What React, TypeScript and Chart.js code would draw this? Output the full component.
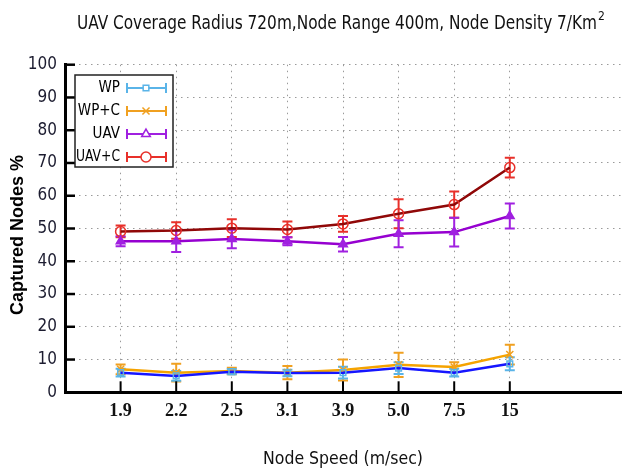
import React, { useEffect, useRef } from 'react';
import { Chart, registerables } from 'chart.js';
import { drawPoint } from 'chart.js/helpers';

Chart.register(...registerables);

const categories = ['1.9', '2.2', '2.5', '3.1', '3.9', '5.0', '7.5', '15'];
const yTicks = [0, 10, 20, 30, 40, 50, 60, 70, 80, 90, 100];

const seriesNames = ['WP', 'WP+C', 'UAV', 'UAV+C'];

const wp = [6.0, 5.0, 6.3, 5.9, 6.0, 7.4, 6.0, 8.7];
const wpErr = [1.2, 1.5, 0.8, 1.0, 1.8, 1.8, 1.2, 2.0];
const wpc = [7.0, 6.0, 6.5, 6.0, 6.8, 8.4, 7.7, 11.5];
const wpcErr = [1.5, 2.7, 1.0, 2.0, 3.2, 3.7, 1.5, 3.0];
const uav = [46.1, 46.1, 46.8, 46.1, 45.2, 48.4, 48.9, 53.8];
const uavErr = [1.5, 3.3, 2.8, 1.2, 2.2, 4.1, 4.4, 3.8];
const uavc = [49.1, 49.4, 50.1, 49.7, 51.4, 54.5, 57.3, 68.6];
const uavcErr = [1.8, 2.5, 2.7, 2.4, 2.4, 4.4, 4.0, 3.0];

const seriesValues = [wp, wpc, uav, uavc];
const seriesErrors = [wpErr, wpcErr, uavErr, uavcErr];

const lineColors = ['#1616ff', '#f5a300', '#9600d0', '#900808'];
const markerColors = ['#5ab4e8', '#f0a020', '#a020e0', '#e8302a'];
const pointStyles = ['rect', 'crossRot', 'triangle', 'circle'];
const pointRadii = [4, 5, 5, 5];
const pointFilled = [false, false, true, false];

const errorBarPlugin = {
  id: 'errorBars',
  beforeDatasetsDraw(chart: any) {
    const { ctx } = chart;
    const xs = chart.scales.x;
    const ys = chart.scales.y;
    ctx.save();
    for (let di = chart.data.datasets.length - 1; di >= 0; di--) {
      const ds = chart.data.datasets[di];
      const errs = seriesErrors[di];
      ctx.strokeStyle = markerColors[di];
      ctx.lineWidth = 2;
      ds.data.forEach((pt: any, i: number) => {
        const px = xs.getPixelForValue(pt.x);
        const top = ys.getPixelForValue(pt.y + errs[i]);
        const bot = ys.getPixelForValue(pt.y - errs[i]);
        ctx.beginPath();
        ctx.moveTo(px, top);
        ctx.lineTo(px, bot);
        ctx.moveTo(px - 5, top);
        ctx.lineTo(px + 5, top);
        ctx.moveTo(px - 5, bot);
        ctx.lineTo(px + 5, bot);
        ctx.stroke();
      });
    }
    ctx.restore();
  },
};

const decorPlugin = {
  id: 'decor',
  afterDraw(chart: any) {
    const { ctx, chartArea: ca } = chart;
    const xs = chart.scales.x;
    const ys = chart.scales.y;
    ctx.save();
    // inward tick marks
    ctx.strokeStyle = '#000';
    ctx.lineWidth = 2.5;
    ys.ticks.forEach((t: any) => {
      const py = ys.getPixelForValue(t.value);
      ctx.beginPath();
      ctx.moveTo(ca.left, py);
      ctx.lineTo(ca.left + 10, py);
      ctx.stroke();
    });
    ctx.lineWidth = 2;
    xs.ticks.forEach((t: any) => {
      const px = xs.getPixelForValue(t.value);
      ctx.beginPath();
      ctx.moveTo(px, ca.bottom);
      ctx.lineTo(px, ca.bottom - 11);
      ctx.stroke();
    });

    // legend
    const bx = 75, by = 75, bw = 98, bh = 92;
    ctx.fillStyle = '#fff';
    ctx.fillRect(bx, by, bw, bh);
    ctx.strokeStyle = '#222';
    ctx.lineWidth = 1.5;
    ctx.strokeRect(bx, by, bw, bh);
    const rowsY = [88, 111, 134, 157];
    ctx.font = '15px "DejaVu Sans Condensed", "DejaVu Sans", sans-serif';
    ctx.textAlign = 'right';
    ctx.textBaseline = 'middle';
    seriesNames.forEach((name, i) => {
      const ry = rowsY[i];
      ctx.fillStyle = '#000';
      ctx.fillText(name, 120, ry, 44);
      ctx.strokeStyle = markerColors[i];
      ctx.lineWidth = 2;
      ctx.beginPath();
      ctx.moveTo(127, ry);
      ctx.lineTo(166, ry);
      ctx.moveTo(127, ry - 5);
      ctx.lineTo(127, ry + 5);
      ctx.moveTo(166, ry - 5);
      ctx.lineTo(166, ry + 5);
      ctx.stroke();
      ctx.fillStyle = '#fff';
      ctx.lineWidth = 1.5;
      drawPoint(ctx, { pointStyle: pointStyles[i], radius: pointRadii[i], rotation: 0, borderWidth: 1.5 }, 146, ry);
    });

    // title
    ctx.fillStyle = '#111';
    ctx.textAlign = 'left';
    ctx.textBaseline = 'alphabetic';
    ctx.font = '19px "DejaVu Sans Condensed", "DejaVu Sans", sans-serif';
    ctx.fillText('UAV Coverage Radius 720m,Node Range 400m, Node Density 7/Km', 77, 29, 520);
    ctx.font = '12px "DejaVu Sans Condensed", "DejaVu Sans", sans-serif';
    ctx.fillText('2', 598, 20);

    // x title
    ctx.textAlign = 'center';
    ctx.font = '18px "DejaVu Sans Condensed", "DejaVu Sans", sans-serif';
    ctx.fillText('Node Speed (m/sec)', 343, 464, 160);

    // y title
    ctx.save();
    ctx.translate(23, 235);
    ctx.rotate(-Math.PI / 2);
    ctx.font = 'bold 18px "Liberation Sans", Arial, sans-serif';
    ctx.fillStyle = '#000';
    ctx.fillText('Captured Nodes %', 0, 0, 166);
    ctx.restore();

    ctx.restore();
  },
};

export default function App() {
  const ref = useRef<HTMLCanvasElement>(null);
  useEffect(() => {
    document.body.style.margin = '0';
    const datasets = seriesNames.map((name, i) => ({
      label: name,
      data: seriesValues[i].map((v, j) => ({ x: j + 1, y: v })),
      borderColor: lineColors[i],
      borderWidth: 2.5,
      backgroundColor: lineColors[i],
      pointStyle: pointStyles[i],
      pointRadius: pointRadii[i],
      pointBorderColor: markerColors[i],
      pointBackgroundColor: pointFilled[i] ? markerColors[i] : 'rgba(0,0,0,0)',
      pointBorderWidth: 1.5,
      tension: 0,
      fill: false,
    }));
    const chart = new Chart(ref.current!, {
      type: 'line',
      data: { datasets },
      plugins: [errorBarPlugin, decorPlugin],
      options: {
        responsive: false,
        animation: false,
        devicePixelRatio: 1,
        layout: { padding: { left: 0, right: 18, top: 64.7, bottom: 0 } },
        plugins: { legend: { display: false }, title: { display: false }, tooltip: { enabled: false } },
        scales: {
          x: {
            type: 'linear',
            min: 0,
            max: 10,
            afterBuildTicks: (scale: any) => {
              scale.ticks = categories.map((_, i) => ({ value: i + 1 }));
            },
            afterFit: (scale: any) => {
              scale.height = 472 - 392.3;
            },
            ticks: {
              autoSkip: false,
              maxRotation: 0,
              padding: 8,
              color: '#111',
              font: { family: '"Liberation Serif", serif', size: 18, weight: 'bold' },
              callback: (v: any) => categories[Math.round(v) - 1] ?? '',
            },
            grid: { color: '#9a9a9a', lineWidth: 1, drawTicks: false },
            border: { display: true, color: '#000', width: 3, dash: [1.5, 4.5] },
          },
          y: {
            type: 'linear',
            min: 0,
            max: 100,
            afterBuildTicks: (scale: any) => {
              scale.ticks = yTicks.map((v) => ({ value: v }));
            },
            afterFit: (scale: any) => {
              scale.width = 65;
            },
            ticks: {
              padding: 8,
              color: '#1c1c30',
              font: { family: '"DejaVu Sans Condensed", "DejaVu Sans", sans-serif', size: 17 },
              callback: (v: any) => String(v),
            },
            grid: { color: '#9a9a9a', lineWidth: 1, drawTicks: false },
            border: { display: true, color: '#000', width: 3, dash: [1.5, 4.5] },
          },
        },
      } as any,
    });
    return () => chart.destroy();
  }, []);
  return (
    <div style={{ width: 639, height: 472, background: '#fff' }}>
      <canvas ref={ref} width={639} height={472} style={{ display: 'block' }} />
    </div>
  );
}
